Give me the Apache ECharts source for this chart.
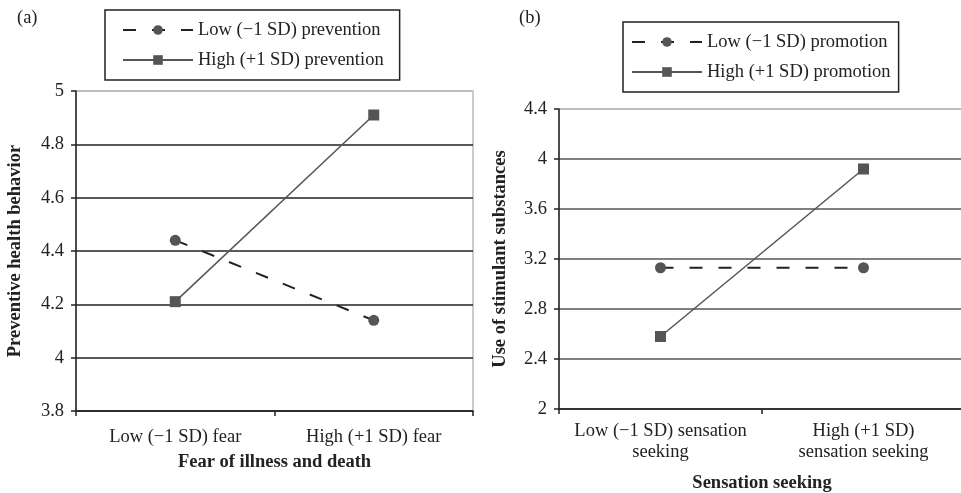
<!DOCTYPE html>
<html>
<head>
<meta charset="utf-8">
<script src="https://cdn.jsdelivr.net/npm/echarts@6/dist/echarts.min.js"></script>
<style>
  html, body { margin: 0; padding: 0; background: #fff; }
  #main { width: 961px; height: 493px; }
</style>
</head>
<body>
<div id="main"></div>
<script>
// panel (a)
var fearCats = ['Low (\u22121 SD) fear', 'High (+1 SD) fear'];
var lowPrevention = [4.44, 4.14];
var highPrevention = [4.21, 4.91];
var fearTicks = [3.8, 4, 4.2, 4.4, 4.6, 4.8, 5];

// panel (b)
var sensationCats = ['Low (\u22121 SD) sensation\nseeking', 'High (+1 SD)\nsensation seeking'];
var lowPromotion = [3.13, 3.13];
var highPromotion = [2.58, 3.92];
var sensationTicks = [2, 2.4, 2.8, 3.2, 3.6, 4, 4.4];

var FONT = '"Liberation Serif", "Times New Roman", serif';
var FS = 18.5;

var myChart = echarts.init(document.getElementById('main'));

function legendBox(left, top, names, padding) {
  return {
    left: left,
    top: top,
    orient: 'vertical',
    data: names,
    itemWidth: 70,
    itemHeight: 12,
    itemGap: 10,
    padding: padding,
    borderColor: '#222',
    borderWidth: 1.5,
    selectedMode: false,
    textStyle: { fontFamily: FONT, fontSize: FS, color: '#222', lineHeight: 20 }
  };
}

function yAxisFor(idx, min, max, interval, name, gap, splitColors) {
  return {
    type: 'value',
    gridIndex: idx,
    min: min,
    max: max,
    interval: interval,
    name: name,
    nameLocation: 'middle',
    nameGap: gap,
    nameTextStyle: { fontFamily: FONT, fontSize: FS, fontWeight: 'bold', color: '#222' },
    axisLine: { show: true, lineStyle: { color: '#222', width: 1.5 } },
    axisTick: { show: true, length: 5, lineStyle: { color: '#222', width: 1.5 } },
    axisLabel: {
      margin: 12,
      fontFamily: FONT, fontSize: FS, color: '#222',
      formatter: function (v) { return String(+v.toFixed(1)); }
    },
    splitLine: { show: true, lineStyle: { color: splitColors, width: 1.5 } }
  };
}

function xAxisFor(idx, cats, name, gap, margin) {
  return {
    type: 'category',
    gridIndex: idx,
    data: cats,
    name: name,
    nameLocation: 'middle',
    nameGap: gap,
    nameTextStyle: { fontFamily: FONT, fontSize: FS, fontWeight: 'bold', color: '#222' },
    axisLine: { show: true, lineStyle: { color: '#222', width: 1.5 } },
    axisTick: { show: true, length: 5, lineStyle: { color: '#222', width: 1.5 } },
    axisLabel: { margin: margin, interval: 0, fontFamily: FONT, fontSize: FS, color: '#222', lineHeight: 21 }
  };
}

function lowSeries(name, idx, data) {
  return {
    name: name, type: 'line', xAxisIndex: idx, yAxisIndex: idx, data: data,
    symbol: 'circle', symbolSize: 11,
    itemStyle: { color: '#555' },
    lineStyle: { color: '#222', width: 2, type: [13, 16] },
    animation: false
  };
}

function highSeries(name, idx, data) {
  return {
    name: name, type: 'line', xAxisIndex: idx, yAxisIndex: idx, data: data,
    symbol: 'rect', symbolSize: 11,
    itemStyle: { color: '#555' },
    lineStyle: { color: '#555', width: 1.5 },
    animation: false
  };
}

var option = {
  backgroundColor: '#fff',
  title: [
    { text: '(a)', left: 12, top: 4, textStyle: { fontFamily: FONT, fontSize: FS, fontWeight: 'normal', color: '#222' } },
    { text: '(b)', left: 514, top: 4, textStyle: { fontFamily: FONT, fontSize: FS, fontWeight: 'normal', color: '#222' } }
  ],
  legend: [
    legendBox(105, 10, ['Low (\u22121 SD) prevention', 'High (+1 SD) prevention'], [10, 16, 10, 17]),
    legendBox(623, 22, ['Low (\u22121 SD) promotion', 'High (+1 SD) promotion'], [10, 8, 10, 8])
  ],
  grid: [
    { left: 76, top: 91, width: 397, height: 320, outerBoundsMode: 'none', show: true, borderColor: '#bbb', borderWidth: 1.5 },
    { left: 559, top: 109, width: 406, height: 300, outerBoundsMode: 'none', show: true, borderColor: '#bbb', borderWidth: 1.5 }
  ],
  xAxis: [
    xAxisFor(0, fearCats, 'Fear of illness and death', 41, 16),
    xAxisFor(1, sensationCats, 'Sensation seeking', 65, 12)
  ],
  yAxis: [
    yAxisFor(0, fearTicks[0], fearTicks[fearTicks.length - 1], 0.2, 'Preventive health behavior', 51,
      ['#222', '#222', '#222', '#222', '#222', '#222', '#bbb']),
    yAxisFor(1, sensationTicks[0], sensationTicks[sensationTicks.length - 1], 0.4, 'Use of stimulant substances', 49,
      ['#555', '#555', '#555', '#555', '#555', '#555', '#bbb'])
  ],
  series: [
    lowSeries('Low (\u22121 SD) prevention', 0, lowPrevention),
    highSeries('High (+1 SD) prevention', 0, highPrevention),
    lowSeries('Low (\u22121 SD) promotion', 1, lowPromotion),
    highSeries('High (+1 SD) promotion', 1, highPromotion)
  ]
};

myChart.setOption(option);
</script>
</body>
</html>
